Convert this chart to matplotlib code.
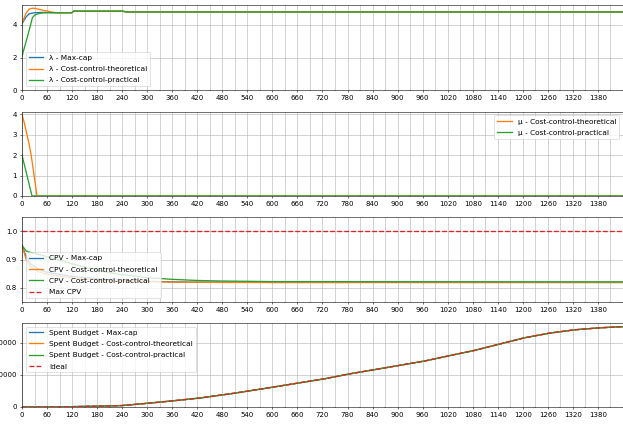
import numpy as np
from matplotlib import pyplot as plt
from matplotlib.ticker import MultipleLocator

# lambda per strategy (minutes of the day)
lam_t = [0, 10, 17, 25, 30, 40, 50, 60, 70, 80, 90, 119, 124, 240, 250, 1439]
lam_maxcap = [4.08, 4.5, 4.68, 4.73, 4.75, 4.76, 4.77, 4.77, 4.76, 4.75, 4.75, 4.75, 4.85, 4.85, 4.8, 4.8]
lam_theory = [4.1, 4.75, 4.97, 5.03, 5.02, 4.97, 4.9, 4.86, 4.8, 4.76, 4.75, 4.75, 4.85, 4.85, 4.8, 4.8]
lam_practical = [2.08, 3.0, 3.65, 4.45, 4.6, 4.7, 4.74, 4.75, 4.75, 4.75, 4.75, 4.75, 4.85, 4.85, 4.8, 4.8]

# mu
mu_t_theory = [0, 6, 12, 17, 22, 29, 36, 1439]
mu_theory = [4.0, 3.55, 3.0, 2.55, 2.0, 1.0, 0.0, 0.0]
mu_t_practical = [0, 12, 24, 1439]
mu_practical = [2.0, 1.0, 0.0, 0.0]

# cost per visit
cpv_t = [0, 10, 20, 40, 60, 120, 180, 240, 300, 360, 420, 480, 600, 1439]
cpv_maxcap = [0.95, 0.91, 0.885, 0.865, 0.855, 0.84, 0.832, 0.826, 0.823, 0.821, 0.82, 0.82, 0.819, 0.819]
cpv_theory = [0.95, 0.9, 0.875, 0.857, 0.848, 0.835, 0.828, 0.824, 0.822, 0.82, 0.82, 0.819, 0.819, 0.819]
cpv_practical = [0.95, 0.93, 0.925, 0.918, 0.91, 0.885, 0.862, 0.846, 0.836, 0.83, 0.826, 0.824, 0.822, 0.821]
max_cpv = 1.0

# spent budget
spend_t = [0, 60, 120, 180, 240, 300, 360, 426, 506, 587, 666, 725, 786, 846, 906, 966,
           1025, 1085, 1145, 1205, 1265, 1325, 1385, 1439]
spend = [0, 40, 100, 250, 450, 1150, 1900, 2800, 4250, 5900, 7570, 8810, 10370, 11700, 13040, 14400,
         16060, 17700, 19690, 21650, 23100, 24130, 24750, 25100]

plt.rcParams['lines.linewidth'] = 1.9
plt.rcParams['legend.fontsize'] = 10.6
plt.rcParams['legend.labelspacing'] = 0.7

fig = plt.figure(figsize=(12.46, 8.5), dpi=50)
boxes = [(0.0353, 0.788, 0.9647, 0.2), (0.0353, 0.539, 0.9647, 0.198),
         (0.0353, 0.2894, 0.9647, 0.2), (0.0353, 0.0424, 0.9647, 0.198)]
axs = [fig.add_axes(b) for b in boxes]

ax = axs[0]
ax.plot(lam_t, lam_maxcap, color='C0', label='λ - Max-cap')
ax.plot(lam_t, lam_theory, color='C1', label='λ - Cost-control-theoretical')
ax.plot(lam_t, lam_practical, color='C2', label='λ - Cost-control-practical')
ax.set_ylim(0, 5.22)
ax.set_yticks([0, 2, 4])
ax.legend(loc='lower left')

ax = axs[1]
ax.plot(mu_t_theory, mu_theory, color='C1', label='μ - Cost-control-theoretical')
ax.plot(mu_t_practical, mu_practical, color='C2', label='μ - Cost-control-practical')
ax.set_ylim(0, 4.13)
ax.legend(loc='upper right')

ax = axs[2]
ax.plot(cpv_t, cpv_maxcap, color='C0', label='CPV - Max-cap')
ax.plot(cpv_t, cpv_theory, color='C1', label='CPV - Cost-control-theoretical')
ax.plot(cpv_t, cpv_practical, color='C2', label='CPV - Cost-control-practical')
ax.axhline(max_cpv, color='C3', linestyle='--', label='Max CPV')
ax.set_ylim(0.75, 1.05)
ax.set_yticks([0.8, 0.9, 1.0])
ax.legend(loc='lower left')

ax = axs[3]
ax.plot(spend_t, spend, color='C0', label='Spent Budget - Max-cap')
ax.plot(spend_t, spend, color='C1', label='Spent Budget - Cost-control-theoretical')
ax.plot(spend_t, spend, color='C2', label='Spent Budget - Cost-control-practical')
ax.plot(spend_t, spend, color='C3', linestyle='--', label='Ideal')
ax.set_ylim(0, 26300)
ax.set_yticks([0, 10000, 20000])
ax.legend(loc='upper left')

for ax in axs:
    ax.set_xlim(0, 1440)
    ax.xaxis.set_major_locator(MultipleLocator(60))
    ax.xaxis.set_minor_locator(MultipleLocator(30))
    ax.set_xticks(np.arange(0, 1440, 60))
    ax.grid(True, which='both')

fig.savefig('out.png', dpi=50)
